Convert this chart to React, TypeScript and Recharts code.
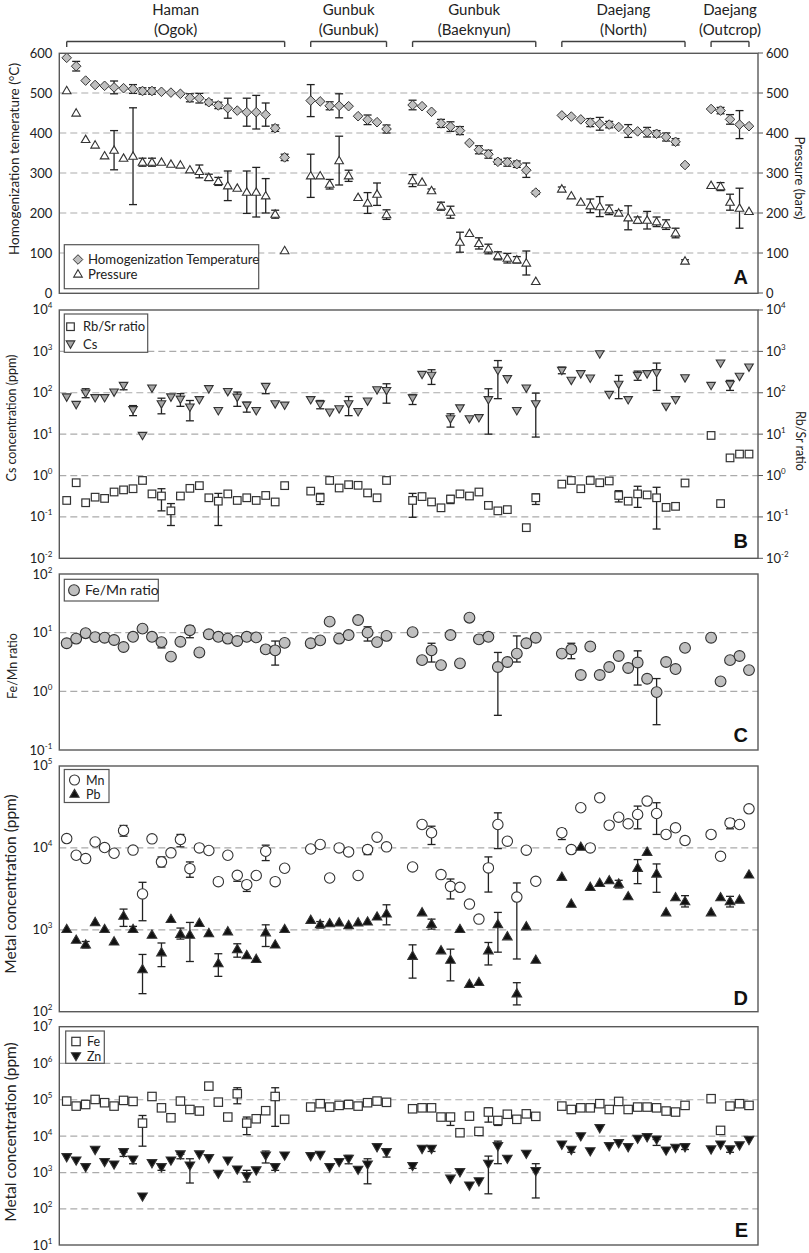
import React from 'react'
import { ScatterChart, Scatter, XAxis, YAxis, ErrorBar, ReferenceLine } from 'recharts'

// ---- data ----
const groupNames = ['Haman', 'Gunbuk', 'Gunbuk', 'Daejang', 'Daejang']
const groupSubs = ['(Ogok)', '(Gunbuk)', '(Baeknyun)', '(North)', '(Outcrop)']
const groupSizes = [24, 9, 14, 14, 5]
const GROUP_GAP = 2.75

// A: homogenization temperature (°C) and pressure (bars), symmetric errors (0 = none)
const homTemp = [
  588, 567, 531, 520, 518, 514, 512, 510, 505, 505, 503, 501, 498, 488, 487, 477, 469, 462, 456, 452, 452, 446, 412, 339,
  481, 479, 468, 468, 467, 442, 433, 427, 410,
  470, 467, 453, 424, 416, 406, 375, 358, 347, 328, 327, 322, 307, 251,
  444, 441, 434, 426, 423, 421, 415, 405, 404, 402, 398, 390, 378, 320,
  460, 456, 434, 421, 417,
]
const homTempErr = [
  0, 12, 0, 0, 0, 16, 0, 11, 8, 8, 0, 0, 0, 10, 12, 6, 8, 25, 0, 35, 42, 29, 8, 8,
  40, 0, 10, 30, 0, 0, 12, 0, 10,
  12, 0, 0, 10, 12, 10, 0, 10, 10, 6, 10, 8, 18, 4,
  0, 0, 0, 10, 16, 8, 0, 16, 0, 12, 8, 10, 8, 3,
  0, 8, 12, 35, 0,
]
const pressure = [
  506, 450, 384, 370, 343, 357, 337, 342, 327, 327, 327, 322, 320, 308, 304, 289, 279, 268, 262, 252, 252, 243, 197, 106,
  293, 293, 272, 331, 293, 239, 225, 247, 196,
  281, 277, 256, 217, 202, 127, 149, 124, 110, 93, 87, 83, 75, 29,
  260, 243, 227, 218, 216, 208, 200, 188, 182, 182, 178, 171, 150, 80,
  269, 266, 227, 212, 204,
]
const pressureErr = [
  0, 0, 0, 0, 0, 49, 0, 121, 10, 10, 0, 0, 0, 0, 16, 8, 10, 37, 0, 53, 62, 43, 10, 0,
  54, 0, 12, 61, 14, 0, 26, 28, 12,
  15, 0, 4, 10, 15, 25, 0, 14, 12, 10, 12, 8, 30, 0,
  5, 0, 0, 17, 25, 12, 6, 30, 8, 22, 12, 12, 12, 3,
  0, 10, 20, 50, 0,
]

// B: Cs (ppm) and Rb/Sr ratio
const cs = [
  79, 52, 98, 76, 76, 104, 150, 39, 9.3, 130, 54, 79, 70, 45, 68, 125, 37, 107, 78, 50, 37, 142, 54, 50,
  68, 53, 34, 41, 54, 35, 63, 118, 113,
  75, 277, 263, null, 23.5, 43, 23.5, 25, 68, 346, 218, 37, 130, 54,
  346, 200, 288, 226, 870, 91, 160, 68, 262, 288, 305, 47, 68, 230,
  150, 520, 160, 250, 418,
]
const rbSr = [
  0.25, 0.67, 0.22, 0.3, 0.28, 0.4, 0.45, 0.48, 0.76, 0.36, 0.32, 0.14, 0.32, 0.49, 0.57, 0.29, 0.24, 0.36, 0.25, 0.29, 0.25, 0.33, 0.23, 0.57,
  0.42, 0.29, 0.76, 0.5, 0.6, 0.58, 0.38, 0.29, 0.76,
  0.25, 0.31, 0.23, 0.166, 0.27, 0.36, 0.32, 0.4, 0.19, 0.14, 0.15, null, 0.055, 0.29,
  0.62, 0.76, 0.48, 0.76, 0.67, 0.74, 0.33, 0.24, 0.36, 0.34, 0.29, 0.17, 0.18, 0.66,
  9.3, 0.21, 2.67, 3.3, 3.3,
]

// C: Fe/Mn ratio
const feMn = [
  6.6, 7.9, 9.8, 8.4, 8.2, 7.5, 5.7, 8.5, 11.7, 8.5, 6.9, 3.9, 7.0, 11, 4.6, 9.4, 8.5, 7.9, 7.2, 8.5, 8.3, 5.2, 5.0, 6.7,
  6.6, 7.4, 15.4, 7.9, 9.1, 16.4, 10, 6.9, 8.8,
  10.2, 3.4, 5.0, 2.8, 9.1, 3.0, 18, 7.7, 8.5, 2.6, 3.16, 4.4, 6.6, 8.2,
  4.4, 5.2, 1.9, 5.8, 1.9, 2.6, 4.0, 2.5, 3.1, 1.64, 0.97, 3.16, 2.4, 5.5,
  8.2, 1.48, 3.4, 4.0, 2.3,
]

// D: Mn and Pb (ppm)
const mn = [
  13000, 8130, 7400, 11800, 10100, 8600, 16300, 9400, 2740, 12900, 6740, 8700, 12650, 5580, 10000, 9300, 3870, 8130, 4630, 3560, 4600, 9100, 3870, 5640,
  9700, 11000, 4290, 10000, 8930, 4600, 9540, 13500, 10300,
  5850, 19300, 15300, 4720, 3390, 3300, 2060, 1350, 5700, 19300, 12070, 2510, 9370, 3910,
  15300, 9540, 30900, 10000, 40900, 18940, 23700, 19700, 25600, 37300, 26300, 14600, 17600, 12300,
  14600, 7900, 20200, 19300, 30000,
]
const pb = [
  1020, 755, 660, 1240, 1020, 720, 1480, 1020, 330, 870, 530, 1350, 890, 870, 1210, 910, 390, 955, 580, 490, 440, 930, 660, 1020,
  1320, 1170, 1200, 1230, 1140, 1230, 1260, 1450, 1580,
  480, 1630, 1180, 560, 430, 1020, 218, 230, 560, 1170, 830, 167, 1100, 430,
  4420, 2080, 10300, 3330, 3730, 4020, 3660, 2560, 5700, 8930, 4850, 1630, 2490, 2225,
  1630, 2490, 2225, 2330, 4720,
]

// E: Fe and Zn (ppm)
const fe = [
  92000, 67000, 74000, 102000, 83000, 67000, 96000, 90000, 22800, 123000, 60000, 32000, 92000, 54000, 49000, 237000, 86000, 33500, 146000, 22800, 30000, 50000, 123000, 29000,
  63000, 78000, 63000, 70000, 74000, 67000, 83000, 92000, 85000,
  56500, 60000, 60000, 33500, 33500, 12400, 35500, 13500, 46000, 27000, 40000, 29000, 41000, 35000,
  67000, 54000, 60000, 60000, 78000, 54000, 90000, 54000, 63000, 63000, 60000, 49000, 46000, 70000,
  107000, 14400, 67000, 78000, 70000,
]
const zn = [
  2660, 2150, 1410, 4230, 1950, 1670, 3640, 2290, 220, 1820, 1410, 2150, 3170, 1570, 3170, 2500, 930, 2150, 1220, 800, 1150, 2960, 1410, 2960,
  2830, 3080, 1410, 1950, 2400, 1200, 1670, 5000, 3640,
  1520, 4500, 4500, null, 680, 1030, 440, 575, 1750, 5350, 2400, null, 3300, 1100,
  5900, 4230, 10000, 3870, 16700, 5350, 6450, 5000, 8500, 9400, 8100, 4050, 4800, 5000,
  4330, 5900, 4330, 5600, 7900,
]

// error ranges on log panels: [sample index, low, high]
type Err = [number, number, number]
const csErr: Err[] = [
  [2, 76, 125], [6, 118, 171], [7, 28, 49], [10, 31, 74], [12, 47, 95], [13, 21, 65], [18, 47, 104], [19, 34, 59], [21, 95, 165],
  [25, 41, 65], [28, 28, 81], [32, 56, 165],
  [33, 52, 91], [35, 159, 360], [37, 14.8, 31], [41, 10, 125], [42, 72, 600], [46, 8.5, 98],
  [47, 288, 417], [53, 72, 263], [55, 200, 334], [57, 114, 522],
  [63, 114, 199],
]
const rbSrErr: Err[] = [
  [2, 0.19, 0.25], [10, 0.14, 0.48], [11, 0.062, 0.21], [16, 0.062, 0.37],
  [25, 0.2, 0.37],
  [33, 0.098, 0.37], [37, 0.21, 0.33], [46, 0.2, 0.36],
  [53, 0.23, 0.43], [55, 0.17, 0.55], [57, 0.051, 0.52],
]
const feMnErr: Err[] = [
  [2, 9.0, 10.5], [10, 5.5, 7.6], [13, 8.2, 13], [22, 2.8, 7.2],
  [30, 7.2, 12.6],
  [35, 3.16, 6.6], [42, 0.39, 4.6], [44, 3.16, 8.8],
  [48, 3.6, 6.6], [55, 1.28, 4.9], [57, 0.27, 1.65],
]
const mnErr: Err[] = [
  [6, 13900, 18800], [8, 1290, 3800], [10, 5850, 7760], [12, 10300, 14600], [13, 4380, 6740], [18, 3910, 5040], [19, 2940, 3910], [21, 7000, 10800],
  [30, 8280, 10500],
  [35, 11000, 18400], [37, 2380, 4170], [41, 2890, 7760], [42, 9800, 26800], [44, 440, 3730],
  [47, 12650, 17100], [55, 17100, 32400], [57, 14600, 35600], [60, 11000, 13600],
  [63, 17100, 22600],
]
const pbErr: Err[] = [
  [2, 600, 720], [6, 1100, 1790], [7, 960, 1100], [8, 166, 500], [10, 355, 690], [12, 770, 1050], [13, 410, 1230], [16, 270, 510], [18, 463, 675], [21, 625, 1150],
  [25, 1050, 1260], [32, 1150, 2020],
  [33, 257, 655], [35, 1020, 1350], [37, 238, 580], [41, 372, 700], [42, 533, 1630], [44, 121, 226],
  [53, 3240, 4020], [55, 3660, 7200], [57, 2870, 6370], [60, 1900, 2610],
  [63, 1900, 2560],
]
const feErr: Err[] = [
  [8, 5300, 37000], [18, 77600, 214000], [19, 11000, 33500], [22, 18600, 214000],
  [37, 19700, 37200], [41, 24300, 60300], [42, 19700, 30000],
]
const znErr: Err[] = [
  [6, 2770, 3640], [7, 1740, 2660], [10, 1150, 1740], [12, 2390, 3170], [13, 515, 2390], [19, 550, 1150], [21, 1830, 3900], [22, 1150, 1670],
  [28, 1740, 2960], [30, 490, 2390], [32, 2660, 4500],
  [33, 1300, 1700], [35, 3800, 5300], [41, 260, 2830], [42, 1750, 7300], [46, 200, 1750],
  [48, 3600, 4800], [57, 5560, 8100], [60, 4300, 5600],
  [63, 3600, 5200],
]

const linTicks = [0, 100, 200, 300, 400, 500, 600]
const ticksB = [0.01, 0.1, 1, 10, 100, 1000, 10000]
const ticksC = [0.1, 1, 10, 100]
const ticksD = [100, 1000, 10000, 100000]
const ticksE = [10, 100, 1000, 10000, 100000, 1000000, 10000000]

// ---- layout ----
const W = 809
const H = 1253
const FONT = 'Lato, "Open Sans", sans-serif'
const PLOT_LEFT = 59.3
const PLOT_RIGHT = 758
const X_DOMAIN: [number, number] = [-0.78, 72.95]
const PAD = 10
const HEADER_H = 53.3
const A = [53.3, 293.3]
const B = [310, 558.3]
const C = [574, 750]
const D = [766, 1011.7]
const E = [1026.7, 1245]

const sampleX: number[] = []
const groupStart: number[] = []
{
  let cursor = 0
  groupSizes.forEach((n) => {
    groupStart.push(sampleX.length)
    for (let i = 0; i < n; i++) sampleX.push(cursor + i)
    cursor += n - 1 + GROUP_GAP
  })
}

const points = (vals: (number | null)[]) =>
  vals.map((y, i) => ({ x: sampleX[i], y })).filter((p) => p.y != null)
const symErrPoints = (vals: number[], errs: number[]) =>
  vals.map((y, i) => ({ x: sampleX[i], y, err: errs[i] })).filter((p) => p.err > 0)
const rangeErrPoints = (vals: (number | null)[], errs: Err[]) =>
  errs.map(([i, lo, hi]) => {
    const y = vals[i] as number
    return { x: sampleX[i], y, err: [Math.max(0, y - lo), Math.max(0, hi - y)] }
  })

const groupLabels = groupSizes.map((n, g) => ({
  x: (sampleX[groupStart[g]] + sampleX[groupStart[g] + n - 1]) / 2,
  y: 0,
  name: groupNames[g],
  sub: groupSubs[g],
}))

// ---- markers ----
const INK = '#333'
const mDiamond = (cx: number, cy: number) => (
  <path d={`M${cx},${cy - 4.8}L${cx + 4.8},${cy}L${cx},${cy + 4.8}L${cx - 4.8},${cy}Z`} fill="#bfbfbf" stroke={INK} strokeWidth={1} />
)
const mTriUp = (cx: number, cy: number, fill = '#fff', s = 4.3) => (
  <path d={`M${cx},${cy - s}L${cx + s},${cy + s * 0.72}L${cx - s},${cy + s * 0.72}Z`} fill={fill} stroke={INK} strokeWidth={1.1} />
)
const mTriDown = (cx: number, cy: number, fill = '#a6a6a6', s = 4.3) => (
  <path d={`M${cx - s},${cy - s * 0.72}L${cx + s},${cy - s * 0.72}L${cx},${cy + s}Z`} fill={fill} stroke={INK} strokeWidth={1.1} />
)
const mSquare = (cx: number, cy: number, s = 7.6) => (
  <rect x={cx - s / 2} y={cy - s / 2} width={s} height={s} fill="#fff" stroke={INK} strokeWidth={1.2} />
)
const mCircle = (cx: number, cy: number, fill: string, r = 5.2) => (
  <circle cx={cx} cy={cy} r={r} fill={fill} stroke={INK} strokeWidth={1.1} />
)
const none = () => <g />

const shape = (fn: (cx: number, cy: number) => React.ReactElement) => (p: any) => fn(p.cx, p.cy)

function LogTick(props: any) {
  const { x, y, payload, textAnchor } = props
  const exp = Math.round(Math.log10(payload.value))
  return (
    <text x={x} y={y} dy={4.5} textAnchor={textAnchor} fontFamily={FONT} fontSize={13} fill="#222">
      10
      <tspan dy={-6} fontSize={8}>
        {String(exp)}
      </tspan>
    </text>
  )
}

function GroupLabel(p: any) {
  const { cx, payload } = p
  return (
    <g fontFamily={FONT} fontSize={15} fill="#222" textAnchor="middle">
      <text x={cx} y={15.5}>{payload.name}</text>
      <text x={cx} y={35.5}>{payload.sub}</text>
    </g>
  )
}

const ERR = { dataKey: 'err', direction: 'y' as const, width: 4, stroke: '#222', strokeWidth: 1.3 }
const GRID = { stroke: '#ababab', strokeDasharray: '7 4', strokeWidth: 1.2 }

const leftAxis = (domain: [number, number], ticks: number[], log: boolean) => (
  <YAxis
    yAxisId="l"
    type="number"
    dataKey="y"
    domain={domain}
    ticks={ticks}
    scale={log ? 'log' : 'linear'}
    allowDataOverflow
    width={PLOT_LEFT}
    axisLine={false}
    tickLine={false}
    tickSize={6}
    tickMargin={1}
    interval={0}
    tick={log ? (t: any) => <LogTick {...t} /> : { fontSize: 13, fill: '#222', fontFamily: FONT }}
  />
)
const rightAxis = (domain: [number, number], ticks: number[], log: boolean) => (
  <YAxis
    yAxisId="r"
    orientation="right"
    type="number"
    dataKey="y"
    domain={domain}
    ticks={ticks}
    scale={log ? 'log' : 'linear'}
    allowDataOverflow
    width={W - PLOT_RIGHT}
    axisLine={false}
    tickLine={{ stroke: '#555' }}
    tickSize={5}
    tickMargin={3}
    interval={0}
    tick={log ? (t: any) => <LogTick {...t} /> : { fontSize: 13, fill: '#222', fontFamily: FONT }}
  />
)

function frame(top: number, bottom: number, key: string) {
  return (
    <rect key={key} x={PLOT_LEFT} y={top} width={PLOT_RIGHT - PLOT_LEFT} height={bottom - top} fill="none" stroke="#595959" strokeWidth={1.4} />
  )
}

function Panel(props: { box: number[]; right: boolean; children: React.ReactNode }) {
  const { box, right, children } = props
  return (
    <div style={{ position: 'absolute', left: 0, top: box[0] - PAD }}>
      <ScatterChart
        width={W}
        height={box[1] - box[0] + 2 * PAD}
        margin={{ top: PAD, bottom: PAD, left: 0, right: right ? 0 : W - PLOT_RIGHT }}
      >
        <XAxis type="number" dataKey="x" domain={X_DOMAIN} hide allowDataOverflow />
        {children}
      </ScatterChart>
    </div>
  )
}

export default function App() {
  const titleStyle = { fontFamily: FONT, fill: '#222' }
  return (
    <div style={{ position: 'absolute', left: 0, top: 0, width: W, height: H, background: '#fff' }}>
      {/* group header with brackets */}
      <div style={{ position: 'absolute', left: 0, top: 0 }}>
        <ScatterChart width={W} height={HEADER_H} margin={{ top: 0, bottom: 0, left: PLOT_LEFT, right: W - PLOT_RIGHT }}>
          <XAxis type="number" dataKey="x" domain={X_DOMAIN} hide />
          <YAxis type="number" dataKey="y" domain={[0, HEADER_H]} reversed hide />
          {groupSizes.map((n, g) => {
            const a = sampleX[groupStart[g]]
            const b = sampleX[groupStart[g] + n - 1]
            return [
              <ReferenceLine key={`h${g}`} segment={[{ x: a, y: 41.5 }, { x: b, y: 41.5 }]} stroke="#404040" strokeWidth={1.4} />,
              <ReferenceLine key={`l${g}`} segment={[{ x: a, y: 41.5 }, { x: a, y: 47 }]} stroke="#404040" strokeWidth={1.4} />,
              <ReferenceLine key={`r${g}`} segment={[{ x: b, y: 41.5 }, { x: b, y: 47 }]} stroke="#404040" strokeWidth={1.4} />,
            ]
          })}
          <Scatter data={groupLabels} shape={GroupLabel} isAnimationActive={false} />
        </ScatterChart>
      </div>

      {/* A */}
      <Panel box={A} right>
        {leftAxis([0, 600], linTicks, false)}
        {rightAxis([0, 600], linTicks, false)}
        {[100, 200, 300, 400, 500].map((v) => (
          <ReferenceLine key={v} yAxisId="l" y={v} {...GRID} />
        ))}
        <Scatter yAxisId="l" data={symErrPoints(homTemp, homTempErr)} shape={none} isAnimationActive={false}>
          <ErrorBar {...ERR} />
        </Scatter>
        <Scatter yAxisId="r" data={symErrPoints(pressure, pressureErr)} shape={none} isAnimationActive={false}>
          <ErrorBar {...ERR} />
        </Scatter>
        <Scatter yAxisId="l" data={points(homTemp)} shape={shape(mDiamond)} isAnimationActive={false} />
        <Scatter yAxisId="r" data={points(pressure)} shape={shape((x, y) => mTriUp(x, y))} isAnimationActive={false} />
      </Panel>

      {/* B */}
      <Panel box={B} right>
        {leftAxis([0.01, 10000], ticksB, true)}
        {rightAxis([0.01, 10000], ticksB, true)}
        {[0.1, 1, 10, 100, 1000].map((v) => (
          <ReferenceLine key={v} yAxisId="l" y={v} {...GRID} />
        ))}
        <Scatter yAxisId="l" data={rangeErrPoints(cs, csErr)} shape={none} isAnimationActive={false}>
          <ErrorBar {...ERR} />
        </Scatter>
        <Scatter yAxisId="r" data={rangeErrPoints(rbSr, rbSrErr)} shape={none} isAnimationActive={false}>
          <ErrorBar {...ERR} />
        </Scatter>
        <Scatter yAxisId="r" data={points(rbSr)} shape={shape((x, y) => mSquare(x, y))} isAnimationActive={false} />
        <Scatter yAxisId="l" data={points(cs)} shape={shape((x, y) => mTriDown(x, y))} isAnimationActive={false} />
      </Panel>

      {/* C */}
      <Panel box={C} right={false}>
        {leftAxis([0.1, 100], ticksC, true)}
        {[1, 10].map((v) => (
          <ReferenceLine key={v} yAxisId="l" y={v} {...GRID} />
        ))}
        <Scatter yAxisId="l" data={rangeErrPoints(feMn, feMnErr)} shape={none} isAnimationActive={false}>
          <ErrorBar {...ERR} />
        </Scatter>
        <Scatter yAxisId="l" data={points(feMn)} shape={shape((x, y) => mCircle(x, y, '#bfbfbf', 5.4))} isAnimationActive={false} />
      </Panel>

      {/* D */}
      <Panel box={D} right={false}>
        {leftAxis([100, 100000], ticksD, true)}
        {[1000, 10000].map((v) => (
          <ReferenceLine key={v} yAxisId="l" y={v} {...GRID} />
        ))}
        <Scatter yAxisId="l" data={rangeErrPoints(mn, mnErr)} shape={none} isAnimationActive={false}>
          <ErrorBar {...ERR} />
        </Scatter>
        <Scatter yAxisId="l" data={rangeErrPoints(pb, pbErr)} shape={none} isAnimationActive={false}>
          <ErrorBar {...ERR} />
        </Scatter>
        <Scatter yAxisId="l" data={points(mn)} shape={shape((x, y) => mCircle(x, y, '#fff', 5.2))} isAnimationActive={false} />
        <Scatter yAxisId="l" data={points(pb)} shape={shape((x, y) => mTriUp(x, y, '#111', 4.8))} isAnimationActive={false} />
      </Panel>

      {/* E */}
      <Panel box={E} right={false}>
        {leftAxis([10, 10000000], ticksE, true)}
        {[100, 1000, 10000, 100000, 1000000].map((v) => (
          <ReferenceLine key={v} yAxisId="l" y={v} {...GRID} />
        ))}
        <Scatter yAxisId="l" data={rangeErrPoints(fe, feErr)} shape={none} isAnimationActive={false}>
          <ErrorBar {...ERR} />
        </Scatter>
        <Scatter yAxisId="l" data={rangeErrPoints(zn, znErr)} shape={none} isAnimationActive={false}>
          <ErrorBar {...ERR} />
        </Scatter>
        <Scatter yAxisId="l" data={points(fe)} shape={shape((x, y) => mSquare(x, y, 8.4))} isAnimationActive={false} />
        <Scatter yAxisId="l" data={points(zn)} shape={shape((x, y) => mTriDown(x, y, '#111', 4.8))} isAnimationActive={false} />
      </Panel>

      {/* frames, titles, legends, panel letters */}
      <svg width={W} height={H} style={{ position: 'absolute', left: 0, top: 0, pointerEvents: 'none' }}>
        {frame(A[0], A[1], 'fa')}
        {frame(B[0], B[1], 'fb')}
        {frame(C[0], C[1], 'fc')}
        {frame(D[0], D[1], 'fd')}
        {frame(E[0], E[1], 'fe')}

        <text transform="translate(19,159) rotate(-90)" textAnchor="middle" fontSize={13.5} {...titleStyle}>
          Homogenization temerature (°C)
        </text>
        <text transform="translate(795,178) rotate(90)" textAnchor="middle" fontSize={13} {...titleStyle}>
          Pressure (bars)
        </text>
        <text transform="translate(16,418) rotate(-90)" textAnchor="middle" fontSize={12.5} {...titleStyle}>
          Cs concentration (ppm)
        </text>
        <text transform="translate(796,441) rotate(90)" textAnchor="middle" fontSize={12.5} {...titleStyle}>
          Rb/Sr ratio
        </text>
        <text transform="translate(17,666) rotate(-90)" textAnchor="middle" fontSize={12.5} {...titleStyle}>
          Fe/Mn ratio
        </text>
        <text transform="translate(16,884) rotate(-90)" textAnchor="middle" fontSize={15.5} {...titleStyle}>
          Metal concentration (ppm)
        </text>
        <text transform="translate(16,1132) rotate(-90)" textAnchor="middle" fontSize={15.5} {...titleStyle}>
          Metal concentration (ppm)
        </text>

        {/* legend A */}
        <rect x={64.3} y={244.7} width={194.4} height={44} fill="#fff" stroke="#555" strokeWidth={1.2} />
        {mDiamond(78, 259.5)}
        <text x={88} y={264} fontSize={13.2} {...titleStyle}>Homogenization Temperature</text>
        {mTriUp(78, 274)}
        <text x={88} y={278.5} fontSize={13.2} {...titleStyle}>Pressure</text>

        {/* legend B */}
        <rect x={64.3} y={314} width={83.4} height={38.3} fill="#fff" stroke="#555" strokeWidth={1.2} />
        {mSquare(70.5, 326.7)}
        <text x={83} y={331.3} fontSize={13} {...titleStyle}>Rb/Sr ratio</text>
        {mTriDown(70.5, 344)}
        <text x={83} y={348.6} fontSize={13} {...titleStyle}>Cs</text>

        {/* legend C */}
        <rect x={64.3} y={579.3} width={94} height={21.7} fill="#fff" stroke="#555" strokeWidth={1.2} />
        {mCircle(74, 590.2, '#bfbfbf', 5.4)}
        <text x={85} y={595} fontSize={14} {...titleStyle}>Fe/Mn ratio</text>

        {/* legend D */}
        <rect x={64.3} y={769.5} width={44.7} height={33} fill="#fff" stroke="#555" strokeWidth={1.2} />
        {mCircle(74.5, 780, '#fff', 5)}
        <text x={86} y={784.5} fontSize={12.5} {...titleStyle}>Mn</text>
        {mTriUp(74.5, 794, '#111', 4.6)}
        <text x={86} y={798.8} fontSize={12.5} {...titleStyle}>Pb</text>

        {/* legend E */}
        <rect x={65.7} y={1031} width={38.6} height={32.3} fill="#fff" stroke="#555" strokeWidth={1.2} />
        {mSquare(76, 1041.5, 8.4)}
        <text x={87} y={1046} fontSize={12.5} {...titleStyle}>Fe</text>
        {mTriDown(76, 1056, '#111', 4.6)}
        <text x={87} y={1060.8} fontSize={12.5} {...titleStyle}>Zn</text>

        {[
          ['A', 283.5],
          ['B', 548],
          ['C', 742],
          ['D', 1005],
          ['E', 1237],
        ].map(([l, y]) => (
          <text key={l as string} x={748} y={y as number} textAnchor="end" fontSize={20} fontWeight="bold" fontFamily="'Liberation Sans', Arial, sans-serif" fill="#111">
            {l}
          </text>
        ))}
      </svg>
    </div>
  )
}
